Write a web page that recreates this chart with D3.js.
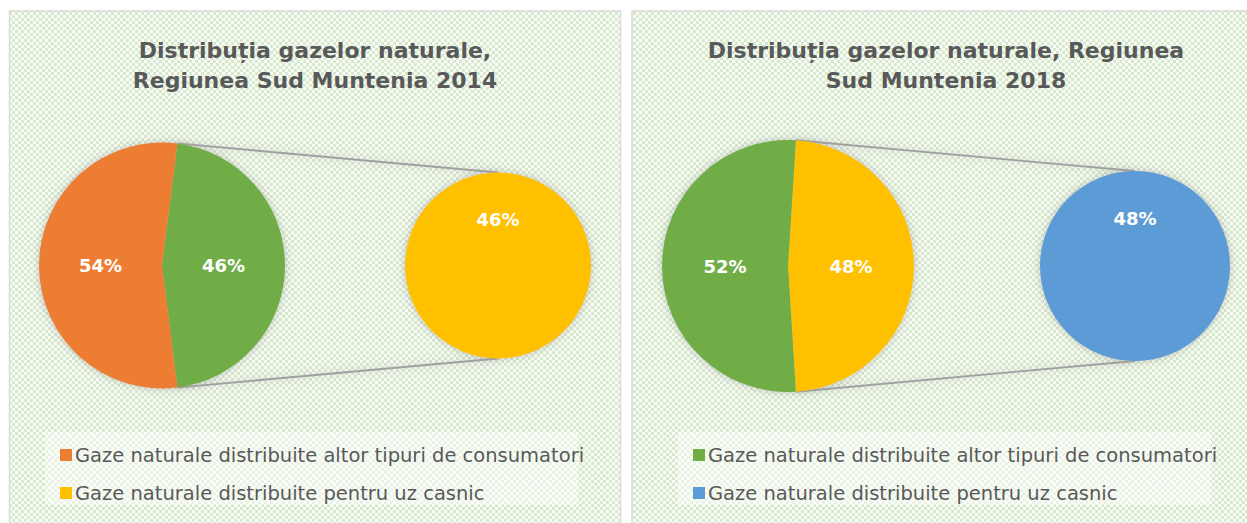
<!DOCTYPE html>
<html>
<head>
<meta charset="utf-8">
<script src="https://cdn.jsdelivr.net/npm/d3@7"></script>
<style>
  html, body { margin: 0; padding: 0; background: #fff; }
  svg { display: block; }
</style>
</head>
<body>
<div id="grafic"></div>
<script>
// date
const ani = ["2014", "2018"];
const titluri = [
  ["Distribuția gazelor naturale,", "Regiunea Sud Muntenia 2014"],
  ["Distribuția gazelor naturale, Regiunea", "Sud Muntenia 2018"]
];
const categorii = [
  "Gaze naturale distribuite altor tipuri de consumatori",
  "Gaze naturale distribuite pentru uz casnic"
];
const valori2014 = [54, 46];
const valori2018 = [52, 48];
const valori = [valori2014, valori2018];

// culori: [altor tipuri, uz casnic (pie secundar), felie "alte" in pie principal]
const culori = [
  ["#ED7D31", "#FFC000", "#70AD47"],
  ["#70AD47", "#5B9BD5", "#FFC000"]
];

const W = 1247, H = 523;
const svg = d3.select("#grafic").append("svg").attr("width", W).attr("height", H);
const defs = svg.append("defs");

const pat = defs.append("pattern")
  .attr("id", "fundal").attr("patternUnits", "userSpaceOnUse")
  .attr("width", 6).attr("height", 6);
pat.append("rect").attr("width", 6).attr("height", 6).attr("fill", "#d7e9cd");
pat.append("rect").attr("width", 3).attr("height", 3).attr("fill", "#f9fcf7");
pat.append("rect").attr("x", 3).attr("y", 3).attr("width", 3).attr("height", 3).attr("fill", "#f9fcf7");

const umbra = defs.append("filter").attr("id", "umbra")
  .attr("x", "-20%").attr("y", "-20%").attr("width", "140%").attr("height", "140%");
umbra.append("feDropShadow").attr("dx", 0).attr("dy", 0).attr("stdDeviation", 4)
  .attr("flood-color", "#7f7f7f").attr("flood-opacity", 0.45);

// geometrie panouri
const panouri = [
  { x: 9.5, y: 11, w: 611, cx: 162, cy: 265.5, r: 123, cx2: 498, cy2: 265.5, r2: 93, tx: 315, lx: 60 },
  { x: 632, y: 11, w: 640, cx: 788, cy: 266, r: 126, cx2: 1135, cy2: 266, r2: 95, tx: 946, lx: 693 }
];

panouri.forEach((p, i) => {
  const g = svg.append("g");
  const [altor, casnic] = valori[i];
  const total = altor + casnic;
  const col = culori[i];

  g.append("rect")
    .attr("x", p.x).attr("y", p.y).attr("width", p.w).attr("height", 540)
    .attr("fill", "url(#fundal)").attr("stroke", "#d9d9d9").attr("stroke-width", 1.5);

  // titlu
  g.append("text")
    .attr("x", p.tx).attr("y", 58)
    .attr("text-anchor", "middle")
    .style("font-family", "'DejaVu Sans', sans-serif")
    .style("font-weight", "bold").style("font-size", "22px")
    .attr("fill", "#595959")
    .selectAll("tspan").data(titluri[i]).join("tspan")
    .attr("x", p.tx).attr("dy", (d, k) => k === 0 ? 0 : 30)
    .text(d => d);

  // pie principal: felia "alte" centrata la 3 ale ceasului
  const theta = 2 * Math.PI * casnic / total;
  const pie = d3.pie().sort(null).value(d => d.v)
    .startAngle(Math.PI / 2 - theta / 2).endAngle(Math.PI / 2 - theta / 2 + 2 * Math.PI);
  const arcs = pie([{ v: casnic, c: col[2] }, { v: altor, c: col[0] }]);
  const arc = d3.arc().innerRadius(0).outerRadius(p.r);

  const gp = g.append("g").attr("filter", "url(#umbra)");

  // linii de legatura
  const a0 = arcs[0].startAngle, a1 = arcs[0].endAngle;
  const linii = [
    [[p.cx + p.r * Math.sin(a0), p.cy - p.r * Math.cos(a0)], [p.cx2, p.cy2 - p.r2]],
    [[p.cx + p.r * Math.sin(a1), p.cy - p.r * Math.cos(a1)], [p.cx2, p.cy2 + p.r2]]
  ];
  gp.selectAll("line").data(linii).join("line")
    .attr("x1", d => d[0][0]).attr("y1", d => d[0][1])
    .attr("x2", d => d[1][0]).attr("y2", d => d[1][1])
    .attr("stroke", "#a0a0a0").attr("stroke-width", 1.8);

  const gm = gp.append("g").attr("transform", `translate(${p.cx},${p.cy})`);
  gm.selectAll("path").data(arcs).join("path")
    .attr("d", arc).attr("fill", d => d.data.c);

  // pie secundar
  const pie2 = d3.pie().sort(null).value(d => d.v).startAngle(-Math.PI).endAngle(Math.PI);
  const arcs2 = pie2([{ v: casnic, c: col[1] }]);
  const arc2 = d3.arc().innerRadius(0).outerRadius(p.r2);
  const gs = gp.append("g").attr("transform", `translate(${p.cx2},${p.cy2})`);
  gs.selectAll("path").data(arcs2).join("path")
    .attr("d", arc2).attr("fill", d => d.data.c);

  // etichete
  const etStyle = sel => sel
    .attr("text-anchor", "middle").attr("dominant-baseline", "central")
    .style("font-family", "'DejaVu Sans', sans-serif")
    .style("font-weight", "bold").style("font-size", "18px")
    .attr("fill", "#fff");
  g.append("g").attr("transform", `translate(${p.cx},${p.cy})`)
    .selectAll("text").data(arcs).join("text")
    .attr("transform", d => `translate(${arc.centroid(d)})`)
    .text(d => Math.round(100 * d.data.v / total) + "%")
    .call(etStyle);
  g.append("g").attr("transform", `translate(${p.cx2},${p.cy2})`)
    .selectAll("text").data(arcs2).join("text")
    .attr("transform", d => `translate(${arc2.centroid(d)})`)
    .text(d => Math.round(100 * d.data.v / total) + "%")
    .call(etStyle);

  // legenda
  g.append("rect")
    .attr("x", p.lx - 15).attr("y", 432).attr("width", 533).attr("height", 73)
    .attr("fill", "#fff").attr("opacity", 0.45);
  const leg = g.selectAll(".leg").data(categorii).join("g")
    .attr("transform", (d, k) => `translate(${p.lx},${455 + k * 38})`);
  leg.append("rect")
    .attr("x", 0).attr("y", -6).attr("width", 12).attr("height", 12)
    .attr("fill", (d, k) => col[k]);
  leg.append("text")
    .attr("x", 15).attr("dominant-baseline", "central")
    .style("font-family", "'DejaVu Sans', sans-serif")
    .style("font-size", "19.5px")
    .attr("fill", "#595959")
    .text(d => d);
});
</script>
</body>
</html>
